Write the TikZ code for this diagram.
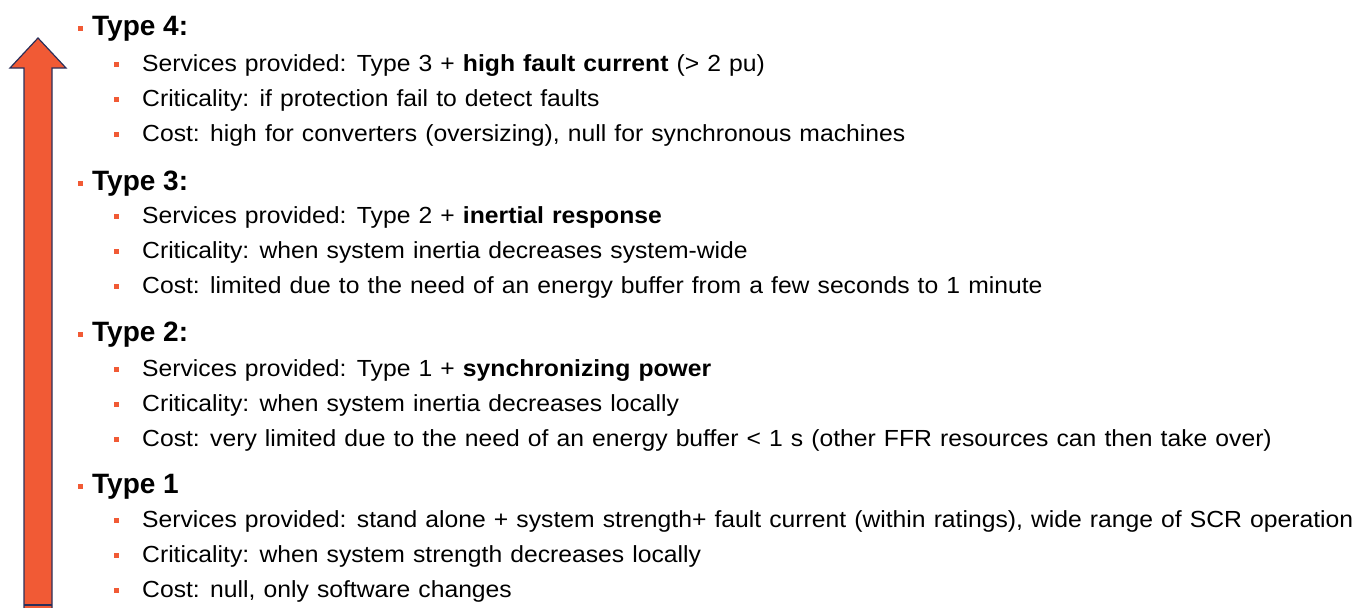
\documentclass[tikz,border=0pt]{standalone}
\usepackage{fontspec}
\setmainfont{Liberation Sans}
\newfontfamily\wideface[FakeStretch=1.06]{Liberation Sans}
\definecolor{arroworange}{HTML}{F15A35}
\definecolor{arrowline}{HTML}{2B2F5A}
\definecolor{bulletorange}{HTML}{F15A35}
\newcommand{\itemfont}{\wideface\fontsize{23.3}{26}\selectfont\spaceskip=8.1pt plus 0pt minus 0pt\relax}
\begin{document}
\begin{tikzpicture}[x=1pt,y=-1pt,
  head/.style={anchor=base west,inner sep=0pt,font=\fontsize{28}{30}\selectfont\bfseries},
  item/.style={anchor=base west,inner sep=0pt,font=\itemfont},
  hbul/.style={fill=bulletorange,minimum size=5pt,inner sep=0pt},
  sbul/.style={fill=bulletorange,minimum size=5pt,inner sep=0pt}]
\useasboundingbox (0,0) rectangle (1358,608);
\begin{scope}
\clip (0,0) rectangle (1358,608);
\draw[fill=arroworange,draw=arrowline,line width=1.2pt]
  (24,620) -- (24,68) -- (10,68) -- (38,38) -- (66,68) -- (52,68) -- (52,620) -- cycle;
\draw[arrowline,line width=1.2pt] (24,605) -- (52,605);
\end{scope}
% Type 4
\node[hbul] (b4) at (80,28) {};
\node[head] (t4) at (92,35) {Type 4:};
\node[sbul] (b41) at (116,64) {};
\node[item] (i41) at (142,71) {Services provided: Type 3 + \textbf{high fault current} (> 2 pu)};
\node[sbul] (b42) at (116,99) {};
\node[item] (i42) at (142,106) {Criticality: if protection fail to detect faults};
\node[sbul] (b43) at (116,134) {};
\node[item] (i43) at (142,141) {Cost: high for converters (oversizing), null for synchronous machines};
% Type 3
\node[hbul] (b3) at (80,183) {};
\node[head] (t3) at (92,190) {Type 3:};
\node[sbul] (b31) at (116,216) {};
\node[item] (i31) at (142,223) {Services provided: Type 2 + \textbf{inertial response}};
\node[sbul] (b32) at (116,251) {};
\node[item] (i32) at (142,258) {Criticality: when system inertia decreases system-wide};
\node[sbul] (b33) at (116,286) {};
\node[item] (i33) at (142,293) {Cost: limited due to the need of an energy buffer from a few seconds to 1 minute};
% Type 2
\node[hbul] (b2) at (80,334) {};
\node[head] (t2) at (92,341) {Type 2:};
\node[sbul] (b21) at (116,369) {};
\node[item] (i21) at (142,376) {Services provided: Type 1 + \textbf{synchronizing power}};
\node[sbul] (b22) at (116,404) {};
\node[item] (i22) at (142,411) {Criticality: when system inertia decreases locally};
\node[sbul] (b23) at (116,439) {};
\node[item] (i23) at (142,446) {Cost: very limited due to the need of an energy buffer < 1 s (other FFR resources can then take over)};
% Type 1
\node[hbul] (b1) at (80,486) {};
\node[head] (t1) at (92,493) {Type 1};
\node[sbul] (b11) at (116,520) {};
\node[item] (i11) at (142,527) {Services provided: stand alone + system strength+ fault current (within ratings), wide range of SCR operation};
\node[sbul] (b12) at (116,555) {};
\node[item] (i12) at (142,562) {Criticality: when system strength decreases locally};
\node[sbul] (b13) at (116,590) {};
\node[item] (i13) at (142,597) {Cost: null, only software changes};
\end{tikzpicture}
\end{document}
